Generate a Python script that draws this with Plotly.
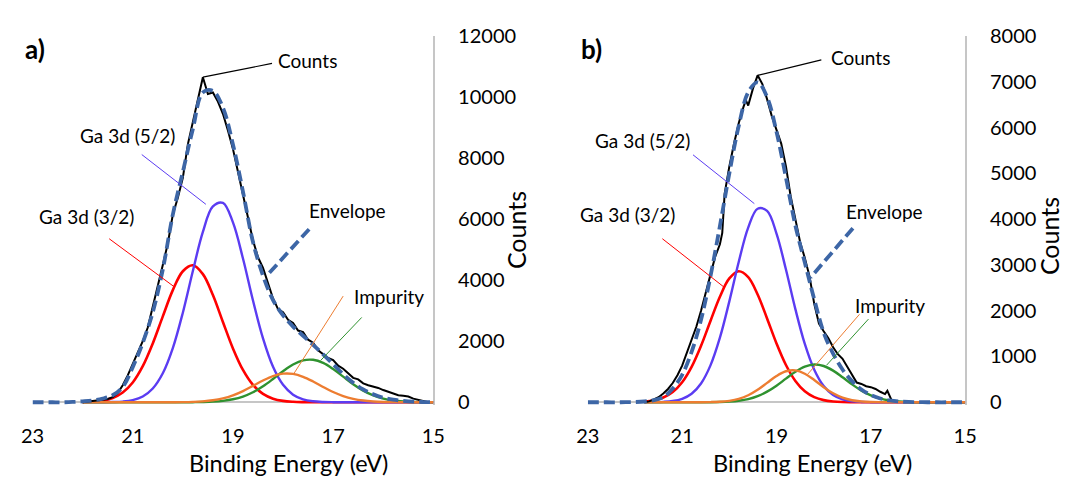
import plotly.graph_objects as go

FONT = "Lato"
W, H = 1073, 482

# ---------------- panel a) ----------------
BE_COMP_A = [22.0, 21.8, 21.6, 21.4, 21.2, 21.0, 20.8, 20.6, 20.4, 20.2, 20.0, 19.8,
             19.6, 19.4, 19.2, 19.0, 18.8, 18.6, 18.4, 18.2, 18.0, 17.8, 17.6, 17.4,
             17.2, 17.0, 16.8, 16.6, 16.4, 16.2, 16.0, 15.8, 15.6, 15.4, 15.2, 15.0]
GA52_A = [0, 0, 2, 7, 23, 71, 190, 451, 950, 1775, 2935, 4299,
          5579, 6414, 6531, 5892, 4708, 3333, 2090, 1161, 571, 249, 96, 33,
          10, 3, 1, 0, 0, 0, 0, 0, 0, 0, 0, 0]
GA32_A = [6, 19, 55, 140, 319, 649, 1183, 1929, 2814, 3674, 4292, 4487,
          4198, 3514, 2632, 1765, 1058, 568, 273, 117, 45, 16, 5, 1,
          0, 0, 0, 0, 0, 0, 0, 0, 0, 0, 0, 0]
GREEN_A = [0, 0, 0, 0, 0, 0, 0, 0, 1, 1, 1, 3,
           8, 20, 47, 98, 188, 328, 524, 764, 1018, 1237, 1373, 1392,
           1289, 1089, 841, 592, 381, 224, 120, 59, 26, 11, 4, 1]
IMPURITY_A = [0, 0, 0, 0, 0, 0, 0, 0, 1, 2, 5, 13,
              30, 65, 128, 228, 368, 538, 713, 859, 938, 929, 834, 680,
              502, 337, 205, 113, 56, 26, 11, 4, 1, 0, 0, 0]

BE_ENV = [23.0, 22.8, 22.6, 22.4, 22.2, 22.0, 21.8, 21.6, 21.4, 21.2, 21.0, 20.8,
          20.6, 20.4, 20.2, 20.0, 19.8, 19.6, 19.4, 19.2, 19.0, 18.8, 18.6, 18.4,
          18.2, 18.0, 17.8, 17.6, 17.4, 17.2, 17.0, 16.8, 16.6, 16.4, 16.2, 16.0,
          15.8, 15.6, 15.4, 15.2, 15.0]
ENVELOPE_A = [0, 0, 0, 0, 10, 30, 60, 120, 230, 500, 1150, 1950,
              2950, 4350, 6150, 7550, 8950, 10150, 10200, 9650, 8450, 6900, 5250, 4150,
              3350, 2850, 2480, 2180, 1880, 1570, 1250, 920, 640, 420, 260, 150,
              85, 45, 20, 8, 0]

BE_CNT_A = [22.0, 21.9, 21.8, 21.7, 21.6, 21.5, 21.4, 21.3, 21.2, 21.1, 21.0, 20.9,
            20.8, 20.7, 20.6, 20.5, 20.4, 20.3, 20.2, 20.1, 20.0, 19.9, 19.8, 19.7,
            19.6, 19.5, 19.4, 19.3, 19.2, 19.1, 19.0, 18.9, 18.8, 18.7, 18.6, 18.5,
            18.4, 18.3, 18.2, 18.1, 18.0, 17.9, 17.8, 17.7, 17.6, 17.5, 17.4, 17.3,
            17.2, 17.1, 17.0, 16.9, 16.8, 16.7, 16.6, 16.5, 16.4, 16.3, 16.2, 16.1,
            16.0, 15.9, 15.8, 15.7, 15.6, 15.5, 15.4, 15.3, 15.2, 15.1]
COUNTS_A = [0, 15, 35, 60, 80, 110, 170, 300, 560, 880, 1250, 1650,
            2000, 2450, 3100, 3850, 4500, 5200, 6150, 6700, 7350, 8450, 9150, 9900,
            10650, 10100, 10150, 9850, 9450, 8900, 8300, 7550, 6850, 6050, 5300, 4750,
            4400, 3900, 3400, 3050, 2950, 2700, 2600, 2350, 2300, 2050, 1950, 1700,
            1580, 1450, 1380, 1200, 1100, 950, 800, 750, 620, 560, 520, 470,
            400, 350, 290, 230, 210, 190, 120, 80, 30, 0]

# ---------------- panel b) ----------------
BE_COMP_B = [21.8, 21.6, 21.4, 21.2, 21.0, 20.8, 20.6, 20.4, 20.2, 20.0, 19.8, 19.6,
             19.4, 19.2, 19.0, 18.8, 18.6, 18.4, 18.2, 18.0, 17.8, 17.6, 17.4, 17.2,
             17.0, 16.8, 16.6, 16.4, 16.2, 16.0, 15.8, 15.6, 15.4, 15.2, 15.0]
GA52_B = [1, 3, 9, 27, 76, 187, 411, 806, 1411, 2204, 3070, 3814,
          4227, 4179, 3685, 2899, 2034, 1273, 711, 354, 157, 62, 22, 7,
          2, 0, 0, 0, 0, 0, 0, 0, 0, 0, 0]
GA32_B = [16, 43, 103, 224, 438, 774, 1234, 1776, 2306, 2704, 2861, 2732,
          2354, 1831, 1285, 814, 466, 240, 112, 47, 18, 6, 2, 0,
          0, 0, 0, 0, 0, 0, 0, 0, 0, 0, 0]
GREEN_B = [0, 0, 0, 0, 0, 0, 1, 2, 6, 15, 34, 70,
           134, 232, 363, 516, 665, 777, 824, 792, 691, 547, 392, 255,
           151, 81, 39, 17, 7, 2, 1, 0, 0, 0, 0]
IMPURITY_B = [0, 0, 0, 0, 0, 0, 1, 4, 12, 32, 74, 153,
              272, 423, 574, 677, 696, 623, 486, 330, 196, 101, 45, 18,
              6, 2, 1, 0, 0, 0, 0, 0, 0, 0, 0]

ENVELOPE_B = [0, 0, 0, 0, 2, 5, 17, 46, 112, 300, 600, 1100,
              1800, 2750, 3850, 5000, 6039, 6769, 6987, 6665, 5907, 4906, 3861, 3050,
              2250, 1523, 1062, 716, 461, 280, 159, 83, 40, 17, 7, 2,
              1, 0, 0, 0, 0]

BE_CNT_B = [21.8, 21.7, 21.6, 21.5, 21.4, 21.3, 21.2, 21.1, 21.0, 20.9,
            20.8, 20.7, 20.6, 20.5, 20.4, 20.3, 20.2, 20.15, 20.1, 20.0,
            19.9, 19.8, 19.7, 19.65, 19.6, 19.5, 19.4, 19.3, 19.2, 19.1,
            19.0, 18.9, 18.8, 18.7, 18.6, 18.5, 18.4, 18.3, 18.2, 18.1,
            18.0, 17.9, 17.8, 17.7, 17.6, 17.5, 17.4, 17.3, 17.2, 17.1,
            17.0, 16.9, 16.8, 16.7, 16.65, 16.6, 16.55]
COUNTS_B = [0, 20, 60, 110, 190, 290, 420, 590, 800, 1080,
            1370, 1650, 2000, 2380, 2800, 3180, 3450, 3700, 4550, 5150,
            5650, 6100, 6450, 6600, 6480, 6850, 7140, 6950, 6620, 6250,
            5950, 5650, 5150, 4500, 4000, 3500, 3150, 2750, 2150, 1720,
            1550, 1400, 1200, 1050, 950, 780, 600, 430, 400, 350,
            330, 290, 230, 180, 250, 120, 20]

X_TICKS = [23, 21, 19, 17, 15]

# series styling
RED = "#ff0000"
PURPLE = "#5b3cf2"
GREEN = "#2f922f"
ORANGE = "#ed7d31"
ENV_BLUE = "#3d66a6"
ENV_DASH = "11px,5px"

fig = go.Figure()


def add_panel(xa, ya, be_comp, ga32, ga52, green, imp, be_cnt, cnt, env):
    common = dict(xaxis=xa, yaxis=ya, mode="lines", showlegend=False, hoverinfo="skip")
    fig.add_trace(go.Scatter(x=be_comp, y=ga32, line=dict(color=RED, width=2.6, shape="spline"), **common))
    fig.add_trace(go.Scatter(x=be_comp, y=ga52, line=dict(color=PURPLE, width=2.4, shape="spline"), **common))
    fig.add_trace(go.Scatter(x=be_comp, y=green, line=dict(color=GREEN, width=2.4, shape="spline"), **common))
    fig.add_trace(go.Scatter(x=be_comp, y=imp, line=dict(color=ORANGE, width=2.4, shape="spline"), **common))
    fig.add_trace(go.Scatter(x=be_cnt, y=cnt, line=dict(color="#000000", width=2.0), **common))
    fig.add_trace(go.Scatter(x=BE_ENV, y=env,
                             line=dict(color=ENV_BLUE, width=3.8, dash=ENV_DASH, shape="spline"), **common))


add_panel("x", "y", BE_COMP_A, GA32_A, GA52_A, GREEN_A, IMPURITY_A, BE_CNT_A, COUNTS_A, ENVELOPE_A)
add_panel("x2", "y2", BE_COMP_B, GA32_B, GA52_B, GREEN_B, IMPURITY_B, BE_CNT_B, COUNTS_B, ENVELOPE_B)

# plot-area placement (pixels -> paper fractions)
XA_DOM = [21 / W, 431 / W]
XB_DOM = [589 / W, 975 / W]
Y_DOM = [(H - 410.2) / H, (H - 24) / H]

AXIS_GREY = "#c6c6c6"


def x_axis(dom, anchor):
    return dict(domain=dom, range=[23, 15], tickvals=X_TICKS, showgrid=False, zeroline=False,
                showline=False, ticks="outside", ticklen=13, tickcolor="rgba(0,0,0,0)",
                tickfont=dict(family=FONT, size=20, color="#000000"), anchor=anchor)


def y_axis(ymax, step, anchor):
    return dict(domain=Y_DOM, range=[-ymax / 120, ymax], tick0=0, dtick=step, side="right",
                tickformat="d", showgrid=False, showline=True, linecolor=AXIS_GREY, linewidth=1.5,
                zeroline=True, zerolinecolor=AXIS_GREY, zerolinewidth=1.5,
                ticks="outside", ticklen=19, tickcolor="rgba(0,0,0,0)",
                tickfont=dict(family=FONT, size=20, color="#000000"),
                anchor=anchor, layer="below traces")


# label text, anchor point and leader-line segments for each panel
LABELS_A = [
    ("Counts", 17.51, 11200, "#000000", 1.2, None, (19.6, 10650, 18.22, 11100)),
    ("Ga 3d (5/2)", 21.10, 8740, PURPLE, 1.0, None, (20.82, 8115, 19.54, 6485)),
    ("Ga 3d (3/2)", 21.92, 6080, RED, 1.0, None, (21.47, 5357, 20.16, 3769)),
    ("Envelope", 16.71, 6270, ENV_BLUE, 3.8, ENV_DASH, (17.48, 5671, 18.33, 4136)),
    ("Impurity", 15.88, 3480, ORANGE, 1.0, None, (16.80, 3478, 17.78, 949)),
    (None, None, None, GREEN, 1.0, None, (16.43, 2779, 17.25, 1369)),
]
LABELS_B = [
    ("Counts", 17.22, 7520, "#000000", 1.2, None, (19.4, 7140, 18.05, 7478)),
    ("Ga 3d (5/2)", 21.84, 5720, PURPLE, 1.0, None, (20.77, 5404, 19.47, 4338)),
    ("Ga 3d (3/2)", 22.15, 4094, RED, 1.0, None, (21.42, 3572, 20.11, 2513)),
    ("Envelope", 16.72, 4157, ENV_BLUE, 3.8, ENV_DASH, (17.38, 3802, 18.28, 2722)),
    ("Impurity", 16.60, 2110, ORANGE, 1.0, None, (17.24, 1922, 18.35, 599)),
    (None, None, None, GREEN, 1.0, None, (17.05, 1817, 17.94, 808)),
]

annotations = []
shapes = []
for labels, xr, yr in ((LABELS_A, "x", "y"), (LABELS_B, "x2", "y2")):
    for text, tx, ty, col, lw, dash, seg in labels:
        if text:
            annotations.append(dict(text=text, x=tx, y=ty, xref=xr, yref=yr, showarrow=False,
                                    xanchor="center", yanchor="middle",
                                    font=dict(family=FONT, size=19, color="#000000")))
        x0, y0, x1, y1 = seg
        line = dict(color=col, width=lw)
        if dash:
            line["dash"] = dash
        shapes.append(dict(type="line", xref=xr, yref=yr, x0=x0, y0=y0, x1=x1, y1=y1, line=line))

# axis titles and panel letters
for txt, px, py, ang, size, bold in [
    ("Binding Energy (eV)", 282.5, 470, 0, 23.5, False),
    ("Binding Energy (eV)", 819, 470, 0, 23.5, False),
    ("Counts", 515.5, 227, -90, 25, False),
    ("Counts", 1061, 233, -90, 25, False),
    ("a)", 24, 38, 0, 26, True),
    ("b)", 592.5, 38, 0, 26, True),
]:
    annotations.append(dict(text=f"<b>{txt}</b>" if bold else txt, x=px / W, y=1 - py / H,
                            xref="paper", yref="paper", showarrow=False, textangle=ang,
                            xanchor="center", yanchor="middle",
                            font=dict(family=FONT, size=size, color="#000000")))

fig.update_layout(
    width=W, height=H, autosize=False,
    margin=dict(l=0, r=0, t=0, b=0, pad=0),
    paper_bgcolor="#ffffff", plot_bgcolor="#ffffff",
    xaxis=x_axis(XA_DOM, "y"), yaxis=y_axis(12000, 2000, "x"),
    xaxis2=x_axis(XB_DOM, "y2"), yaxis2=y_axis(8000, 1000, "x2"),
    annotations=annotations, shapes=shapes,
    font=dict(family=FONT, color="#000000"),
)

fig.write_html("out.html")
